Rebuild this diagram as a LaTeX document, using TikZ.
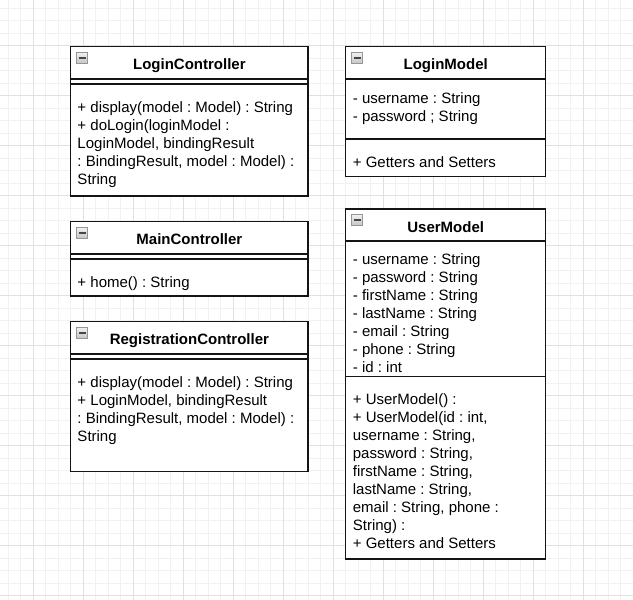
\documentclass[tikz,border=0pt]{standalone}
\usepackage{fontspec}
\setmainfont{Liberation Sans}
\frenchspacing
\definecolor{gridminor}{RGB}{241,241,241}
\definecolor{gridmajor}{RGB}{224,224,224}
\definecolor{boxline}{RGB}{20,20,20}
\definecolor{iconedge}{RGB}{150,150,150}
\definecolor{icontop}{RGB}{240,240,240}
\definecolor{iconbot}{RGB}{195,195,195}
\definecolor{iconbar}{RGB}{70,70,70}
\newcommand\umlminus[2]{%
  \draw[iconbox] (#1,#2) rectangle ++(11,11);
  \draw[iconline] (#1+2,#2+5.5) -- ++(7,0);}
\begin{document}
\begin{tikzpicture}[x=1pt,y=-1pt,line join=miter,
  umlbox/.style={draw=boxline,line width=1.2pt,fill=white},
  sepline/.style={draw=boxline,line width=1.2pt},
  iconbox/.style={draw=iconedge,line width=0.8pt,top color=icontop,bottom color=iconbot},
  iconline/.style={draw=iconbar,line width=1.5pt},
  txt/.style={anchor=base west,inner sep=0pt,font=\fontsize{15}{18}\selectfont},
  ttl/.style={anchor=base,inner sep=0pt,font=\fontsize{15}{18}\selectfont\bfseries}]
\useasboundingbox (0,0) rectangle (633,600);
\fill[white] (0,0) rectangle (633,600);
% grid
\foreach \k in {0,...,51} {
  \draw[gridminor,line width=1pt] (8.3+12.5*\k,0) -- (8.3+12.5*\k,600);
}
\foreach \k in {0,...,48} {
  \draw[gridminor,line width=1pt] (0,8.2+12.5*\k) -- (633,8.2+12.5*\k);
}
\foreach \k in {0,...,12} {
  \draw[gridmajor,line width=1pt] (33.3+50*\k,0) -- (33.3+50*\k,600);
}
\foreach \k in {0,...,11} {
  \draw[gridmajor,line width=1pt] (0,45.7+50*\k) -- (633,45.7+50*\k);
}

% ---------- LoginController ----------
\draw[umlbox] (70.7,46.7) rectangle (308,196);
\draw[sepline] (70.7,79) -- (308,79);
\draw[sepline] (70.7,84) -- (308,84);
\umlminus{76.5}{52.7}
\node[ttl] (lct) at (189.4,69) {LoginController};
\node[txt] (lc1) at (77.3,112.5) {+ display(model : Model) : String};
\node[txt] (lc2) at (77.3,130.5) {+ doLogin(loginModel :};
\node[txt] (lc3) at (77.3,148.5) {LoginModel, bindingResult};
\node[txt] (lc4) at (77.3,166.5) {: BindingResult, model : Model) :};
\node[txt] (lc5) at (77.3,184.5) {String};

% ---------- MainController ----------
\draw[umlbox] (70.7,221.7) rectangle (308,296);
\draw[sepline] (70.7,254) -- (308,254);
\draw[sepline] (70.7,259) -- (308,259);
\umlminus{76.5}{227.7}
\node[ttl] (mct) at (189.4,244) {MainController};
\node[txt] (mc1) at (77.3,287.2) {+ home() : String};

% ---------- RegistrationController ----------
\draw[umlbox] (70.7,321.7) rectangle (308,471.7);
\draw[sepline] (70.7,354) -- (308,354);
\draw[sepline] (70.7,359) -- (308,359);
\umlminus{76.5}{327.7}
\node[ttl] (rct) at (189.4,344) {RegistrationController};
\node[txt] (rc1) at (77.3,387.2) {+ display(model : Model) : String};
\node[txt] (rc2) at (77.3,405.2) {+ LoginModel, bindingResult};
\node[txt] (rc3) at (77.3,423.2) {: BindingResult, model : Model) :};
\node[txt] (rc4) at (77.3,441.2) {String};

% ---------- LoginModel ----------
\draw[umlbox] (345.7,46.7) rectangle (545.7,176.3);
\draw[sepline] (345.7,79) -- (545.7,79);
\draw[sepline] (345.7,139) -- (545.7,139);
\umlminus{351.5}{52.7}
\node[ttl] (lmt) at (445.7,69) {LoginModel};
\node[txt] (lm1) at (352.7,103) {- username : String};
\node[txt] (lm2) at (352.7,121) {- password ; String};
\node[txt] (lm3) at (352.7,167.2) {+ Getters and Setters};

% ---------- UserModel ----------
\draw[umlbox] (345.7,209) rectangle (545.7,559);
\draw[sepline] (345.7,241) -- (545.7,241);
\draw[sepline] (345.7,376.7) -- (545.7,376.7);
\umlminus{351.5}{214.7}
\node[ttl] (umt) at (445.7,232.5) {UserModel};
\node[txt] (ua1) at (352.7,264) {- username : String};
\node[txt] (ua2) at (352.7,282) {- password : String};
\node[txt] (ua3) at (352.7,300) {- firstName : String};
\node[txt] (ua4) at (352.7,318) {- lastName : String};
\node[txt] (ua5) at (352.7,336) {- email : String};
\node[txt] (ua6) at (352.7,354) {- phone : String};
\node[txt] (ua7) at (352.7,372) {- id : int};
\node[txt] (um1) at (352.7,404) {+ UserModel() :};
\node[txt] (um2) at (352.7,422) {+ UserModel(id : int,};
\node[txt] (um3) at (352.7,440) {username : String,};
\node[txt] (um4) at (352.7,458) {password : String,};
\node[txt] (um5) at (352.7,476) {firstName : String,};
\node[txt] (um6) at (352.7,494) {lastName : String,};
\node[txt] (um7) at (352.7,512) {email : String, phone :};
\node[txt] (um8) at (352.7,530) {String) :};
\node[txt] (um9) at (352.7,548) {+ Getters and Setters};
\end{tikzpicture}
\end{document}
